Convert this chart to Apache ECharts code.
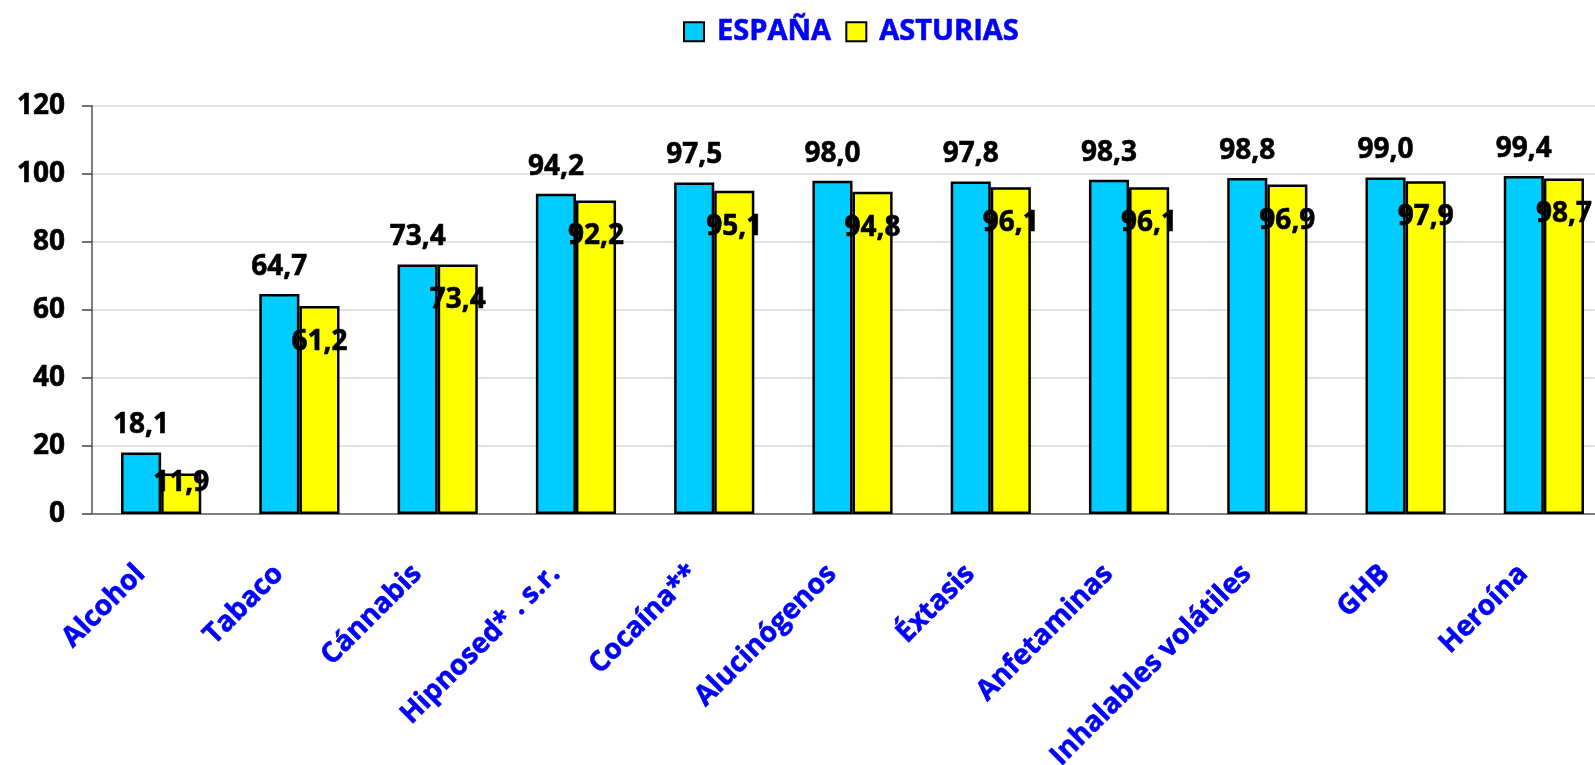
<!DOCTYPE html>
<html>
<head>
<meta charset="utf-8">
<title>España / Asturias</title>
<script src="https://cdn.jsdelivr.net/npm/echarts@6/dist/echarts.min.js"></script>
<style>
  html, body { margin: 0; padding: 0; background: #fff; }
  #chart { width: 1595px; height: 765px; }
</style>
</head>
<body>
<div id="chart"></div>
<script>
// datos
const categories = ["Alcohol", "Tabaco", "Cánnabis", "Hipnosed* . s.r.", "Cocaína**",
  "Alucinógenos", "Éxtasis", "Anfetaminas", "Inhalables volátiles", "GHB", "Heroína"];
const espana = [18.1, 64.7, 73.4, 94.2, 97.5, 98.0, 97.8, 98.3, 98.8, 99.0, 99.4];
const asturias = [11.9, 61.2, 73.4, 92.2, 95.1, 94.8, 96.1, 96.1, 96.9, 97.9, 98.7];
const yTicks = { min: 0, max: 120, interval: 20 };

const FONT = "Open Sans";
const fmt = p => p.value.toFixed(1).replace(".", ",");

// texto negro grueso (tipo Calibri negrita)
const numText = {
  color: "#000",
  fontWeight: "bold",
  fontSize: 28,
  fontFamily: FONT,
  textBorderColor: "#000",
  textBorderWidth: 0.6
};

let myChart = echarts.init(document.getElementById("chart"));
myChart.setOption({
  animation: false,
  textStyle: { fontFamily: FONT },
  legend: {
    top: 12,
    left: 678,
    icon: "rect",
    itemWidth: 20,
    itemHeight: 19,
    itemGap: 14,
    data: ["ESPAÑA", "ASTURIAS"],
    textStyle: {
      color: "#0000ff", fontWeight: "bold", fontSize: 29, fontFamily: FONT,
      textBorderColor: "#0000ff", textBorderWidth: 0.6, padding: [0, 0, 0, 8]
    }
  },
  grid: {
    left: 92,
    top: 106,
    height: 408,
    width: 1521,
    containLabel: false,
    outerBoundsMode: "none"
  },
  xAxis: {
    type: "category",
    data: categories,
    axisLine: { lineStyle: { color: "#7f7f7f", width: 2 } },
    axisTick: { length: 10, lineStyle: { color: "#444", width: 1.5 } },
    axisLabel: {
      interval: 0,
      rotate: 45,
      margin: 35,
      padding: [0, 29, 0, 0],
      color: "#0000ff",
      fontWeight: "bold",
      fontSize: 28,
      fontFamily: FONT,
      textBorderColor: "#0000ff",
      textBorderWidth: 0.6
    }
  },
  yAxis: {
    type: "value",
    min: yTicks.min,
    max: yTicks.max,
    interval: yTicks.interval,
    axisLine: { show: true, lineStyle: { color: "#7f7f7f", width: 2 } },
    axisTick: { show: true, length: 10, lineStyle: { color: "#444", width: 1.5 } },
    splitLine: { lineStyle: { color: "#d9d9d9", width: 1.5 } },
    axisLabel: Object.assign({ margin: 27 }, numText)
  },
  series: [
    {
      name: "ESPAÑA",
      type: "bar",
      data: espana,
      barGap: "0%",
      barCategoryGap: "42%",
      itemStyle: { color: "#00ccff", borderColor: "#000", borderWidth: 2.5 },
      label: Object.assign({
        show: true,
        position: "top",
        distance: 13,
        formatter: fmt
      }, numText)
    },
    {
      name: "ASTURIAS",
      type: "bar",
      // la barra corta lleva la etiqueta pegada arriba
      data: asturias.map(v => v < 20 ? { value: v, label: { distance: -5 } } : v),
      itemStyle: { color: "#ffff00", borderColor: "#000", borderWidth: 2.5 },
      label: Object.assign({
        show: true,
        position: "insideTop",
        distance: 22,
        formatter: fmt
      }, numText)
    }
  ]
});
</script>
</body>
</html>
